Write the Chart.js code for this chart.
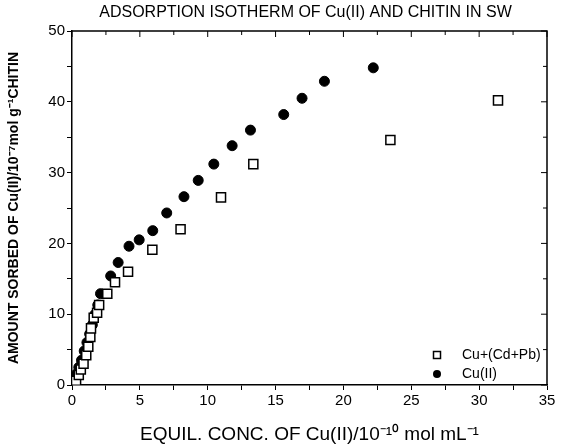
<!DOCTYPE html>
<html>
<head>
<meta charset="utf-8">
<script src="https://cdn.jsdelivr.net/npm/chart.js@4/dist/chart.umd.min.js"></script>
<style>
  body { margin: 0; background: #fff; }
  #wrap { width: 575px; height: 446px; }
</style>
</head>
<body>
<div id="wrap"><canvas id="myChart"></canvas></div>
<script>
// Cu(II) alone (filled circles)
const cuX = [0.05, 0.2, 0.35, 0.5, 0.7, 0.9, 1.1, 1.3, 1.5, 1.7, 1.9, 2.1, 2.85, 3.4, 4.2, 4.95, 5.95, 6.98, 8.25, 9.3, 10.45, 11.8, 13.15, 15.6, 16.95, 18.6, 22.2];
const cuY = [0.2, 0.8, 1.6, 2.5, 3.5, 4.8, 6.0, 7.2, 8.5, 10.0, 11.3, 12.9, 15.4, 17.3, 19.6, 20.5, 21.8, 24.3, 26.6, 28.9, 31.2, 33.8, 36.0, 38.2, 40.5, 42.9, 44.8];

// Cu + (Cd + Pb) (open squares)
const mixX = [0.1, 0.3, 0.5, 0.65, 0.85, 1.05, 1.2, 1.35, 1.4, 1.6, 1.85, 2.0, 2.6, 3.17, 4.13, 5.92, 8.0, 10.98, 13.36, 23.46, 31.39];
const mixY = [0.1, 0.6, 1.4, 2.2, 3.0, 4.2, 5.4, 6.8, 8.0, 9.5, 10.2, 11.3, 12.9, 14.5, 16.0, 19.1, 22.0, 26.5, 31.2, 34.6, 40.2];

const seriesNames = ['Cu+(Cd+Pb)', 'Cu(II)'];
const xLabelSteps = [0, 5, 10, 15, 20, 25, 30, 35];
const yLabelSteps = [0, 10, 20, 30, 40, 50];
const chartTitle = 'ADSORPTION ISOTHERM OF Cu(II) AND CHITIN IN SW';

const toPoints = (xs, ys) => xs.map((x, i) => ({ x: x, y: ys[i] }));
const FONT = '"Liberation Sans", Arial, sans-serif';

// title over plot, top/right frame with inward ticks, legend inside the plot
const framePlugin = {
  id: 'frame',
  afterDraw(chart) {
    const ctx = chart.ctx;
    const a = chart.chartArea;
    const xs = chart.scales.x;
    const ys = chart.scales.y;
    ctx.save();
    ctx.fillStyle = '#000';
    ctx.font = '16px ' + FONT;
    ctx.textAlign = 'center';
    ctx.textBaseline = 'middle';
    ctx.fillText(chartTitle, (a.left + a.right) / 2 - 4, a.top - 18);

    ctx.strokeStyle = '#000';
    ctx.lineWidth = 1.5;
    ctx.beginPath();
    ctx.moveTo(a.left, a.top); ctx.lineTo(a.right, a.top); ctx.lineTo(a.right, a.bottom);
    ctx.stroke();
    ctx.lineWidth = 1;
    xs.ticks.forEach(t => {
      const px = xs.getPixelForValue(t.value);
      const len = xLabelSteps.includes(t.value) ? 6 : 4;
      ctx.beginPath(); ctx.moveTo(px, a.top); ctx.lineTo(px, a.top + len); ctx.stroke();
    });
    ys.ticks.forEach(t => {
      const py = ys.getPixelForValue(t.value);
      const len = yLabelSteps.includes(t.value) ? 6 : 4;
      ctx.beginPath(); ctx.moveTo(a.right, py); ctx.lineTo(a.right - len, py); ctx.stroke();
    });

    // legend
    const lx = a.right - 110;
    const tx = a.right - 85;
    const ly1 = a.bottom - 30;
    const ly2 = a.bottom - 11;
    ctx.lineWidth = 1.5;
    ctx.fillStyle = '#fff';
    ctx.fillRect(lx - 3.5, ly1 - 3.5, 7, 7);
    ctx.strokeRect(lx - 3.5, ly1 - 3.5, 7, 7);
    ctx.fillStyle = '#000';
    ctx.beginPath(); ctx.arc(lx, ly2, 4, 0, Math.PI * 2); ctx.fill();
    ctx.font = '14px ' + FONT;
    ctx.textAlign = 'left';
    ctx.fillText(seriesNames[0], tx, ly1);
    ctx.fillText(seriesNames[1], tx, ly2);
    ctx.restore();
  }
};

const myChart = new Chart(document.getElementById('myChart'), {
  type: 'scatter',
  data: {
    datasets: [
      {
        label: seriesNames[0],
        data: toPoints(mixX, mixY),
        pointStyle: 'rect',
        pointRadius: 6.4,
        pointBackgroundColor: '#fff',
        pointBorderColor: '#000',
        pointBorderWidth: 1.5
      },
      {
        label: seriesNames[1],
        data: toPoints(cuX, cuY),
        pointStyle: 'circle',
        pointRadius: 5,
        pointBackgroundColor: '#000',
        pointBorderColor: '#000',
        pointBorderWidth: 1
      }
    ]
  },
  options: {
    responsive: true,
    maintainAspectRatio: false,
    animation: false,
    layout: { padding: { left: 0, right: 28, top: 31, bottom: 0 } },
    plugins: {
      legend: { display: false },
      tooltip: { enabled: false },
      title: { display: false }
    },
    scales: {
      x: {
        type: 'linear',
        min: 0,
        max: 35,
        afterFit: s => { s.height = 61; },
        border: { display: true, color: '#000', width: 1.5 },
        grid: { drawOnChartArea: false, drawTicks: true, tickLength: 5, color: '#000', tickColor: '#000' },
        ticks: {
          stepSize: 2.5,
          autoSkip: false,
          maxRotation: 0,
          color: '#000',
          padding: 2,
          font: { size: 15, family: FONT },
          callback: v => (xLabelSteps.includes(v) ? v : '')
        },
        title: {
          display: true,
          text: 'EQUIL. CONC. OF Cu(II)/10⁻¹⁰ mol mL⁻¹',
          color: '#000',
          font: { size: 19, family: FONT },
          padding: { top: 2, bottom: 0 }
        }
      },
      y: {
        type: 'linear',
        min: 0,
        max: 50,
        afterFit: s => { s.width = 72; },
        border: { display: true, color: '#000', width: 1.5 },
        grid: { drawOnChartArea: false, drawTicks: true, tickLength: 5, color: '#000', tickColor: '#000' },
        ticks: {
          stepSize: 5,
          autoSkip: false,
          color: '#000',
          padding: 2,
          font: { size: 15, family: FONT },
          callback: v => (yLabelSteps.includes(v) ? v : '')
        },
        title: {
          display: true,
          text: 'AMOUNT SORBED OF Cu(II)/10⁻⁷mol g⁻¹CHITIN',
          color: '#000',
          font: { size: 14, family: FONT, weight: 'bold' },
          padding: { top: 6, bottom: 0 }
        }
      }
    }
  },
  plugins: [framePlugin]
});
</script>
</body>
</html>
